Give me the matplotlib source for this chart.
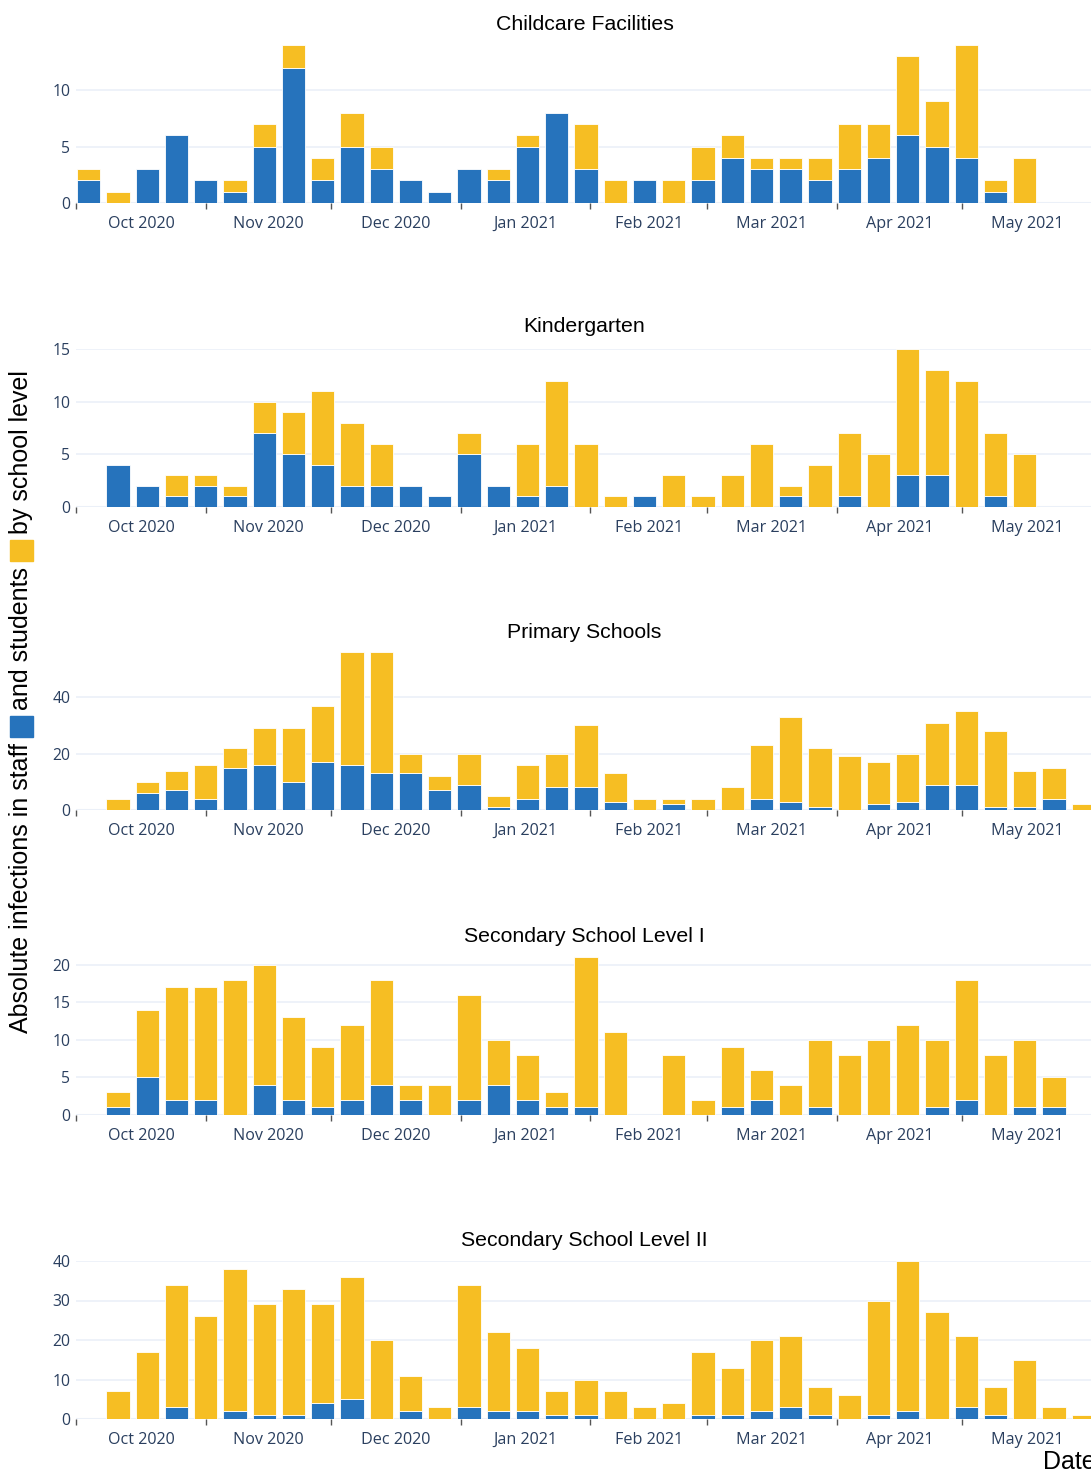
import numpy as np
import pandas as pd
import matplotlib
matplotlib.use("Agg")
import matplotlib.pyplot as plt
import matplotlib.dates as mdates
from matplotlib.patches import Rectangle

# -------------------------------
# Data: weekly infections (staff / students) per school level
# -------------------------------
weeks = pd.date_range("2020-10-04", "2021-05-30", freq="7D")

childcare_staff = [2, 0, 3, 6, 2, 1, 5, 12, 2, 5, 3, 2, 1, 3, 2, 5, 8, 3, 0, 2, 0, 2, 4, 3, 3, 2, 3, 4, 6, 5, 4, 1, 0, 0, 0]
childcare_students = [1, 1, 0, 0, 0, 1, 2, 2, 2, 3, 2, 0, 0, 0, 1, 1, 0, 4, 2, 0, 2, 3, 2, 1, 1, 2, 4, 3, 7, 4, 10, 1, 4, 0, 0]

kinder_staff = [0, 4, 2, 1, 2, 1, 7, 5, 4, 2, 2, 2, 1, 5, 2, 1, 2, 0, 0, 1, 0, 0, 0, 0, 1, 0, 1, 0, 3, 3, 0, 1, 0, 0, 0]
kinder_students = [0, 0, 0, 2, 1, 1, 3, 4, 7, 6, 4, 0, 0, 2, 0, 5, 10, 6, 1, 0, 3, 1, 3, 6, 1, 4, 6, 5, 12, 10, 12, 6, 5, 0, 0]

primary_staff = [0, 0, 6, 7, 4, 15, 16, 10, 17, 16, 13, 13, 7, 9, 1, 4, 8, 8, 3, 0, 2, 0, 0, 4, 3, 1, 0, 2, 3, 9, 9, 1, 1, 4, 0]
primary_students = [0, 4, 4, 7, 12, 7, 13, 19, 20, 40, 43, 7, 5, 11, 4, 12, 12, 22, 10, 4, 2, 4, 8, 19, 30, 21, 19, 15, 17, 22, 26, 27, 13, 11, 2]

sec1_staff = [0, 1, 5, 2, 2, 0, 4, 2, 1, 2, 4, 2, 0, 2, 4, 2, 1, 1, 0, 0, 0, 0, 1, 2, 0, 1, 0, 0, 0, 1, 2, 0, 1, 1, 0]
sec1_students = [0, 2, 9, 15, 15, 18, 16, 11, 8, 10, 14, 2, 4, 14, 6, 6, 2, 20, 11, 0, 8, 2, 8, 4, 4, 9, 8, 10, 12, 9, 16, 8, 9, 4, 0]

sec2_staff = [0, 0, 0, 3, 0, 2, 1, 1, 4, 5, 0, 2, 0, 3, 2, 2, 1, 1, 0, 0, 0, 1, 1, 2, 3, 1, 0, 1, 2, 0, 3, 1, 0, 0, 0]
sec2_students = [0, 7, 17, 31, 26, 36, 28, 32, 25, 31, 20, 9, 3, 31, 20, 16, 6, 9, 7, 3, 4, 16, 12, 18, 18, 7, 6, 29, 38, 27, 18, 7, 15, 3, 1]

titles = ["Childcare Facilities", "Kindergarten", "Primary Schools",
          "Secondary School Level I", "Secondary School Level II"]
staff_series = [childcare_staff, kinder_staff, primary_staff, sec1_staff, sec2_staff]
student_series = [childcare_students, kinder_students, primary_students, sec1_students, sec2_students]
yticks_list = [[0, 5, 10], [0, 5, 10, 15], [0, 20, 40], [0, 5, 10, 15, 20], [0, 10, 20, 30, 40]]

BLUE = "#2673BC"
YELLOW = "#F6BE23"
GRID = "#EBF0F8"
TICKCOL = "#2a3f5f"

# -------------------------------
# Figure layout (pixel based)
# -------------------------------
W, H = 1091, 1474
fig = plt.figure(figsize=(W / 100, H / 100), dpi=100)

ax_left, ax_right = 76, 1095
ax_height = 158
zero_rows = [203, 507, 810, 1115, 1419]
title_rows = [24, 327, 632, 936, 1240]

x = mdates.date2num(weeks)
bar_w = 5.6
month_starts = pd.date_range("2020-10-01", "2021-06-01", freq="MS")
ms = mdates.date2num(month_starts)
mid_months = (ms[:-1] + ms[1:]) / 2
month_labels = [d.strftime("%b %Y") for d in month_starts[:-1]]

for i in range(5):
    staff = np.array(staff_series[i])
    students = np.array(student_series[i])
    total = staff + students
    bottom_px = zero_rows[i]
    ax = fig.add_axes([ax_left / W, 1 - bottom_px / H,
                       (ax_right - ax_left) / W, ax_height / H])

    m1 = staff > 0
    ax.bar(x[m1], staff[m1], width=bar_w, color=BLUE, edgecolor="white", linewidth=0.6, zorder=2)
    m2 = students > 0
    ax.bar(x[m2], students[m2], bottom=staff[m2], width=bar_w, color=YELLOW,
           edgecolor="white", linewidth=0.6, zorder=2)

    ax.set_xlim(ms[0] - 0.05, x[-1] + bar_w / 2)
    ax.set_ylim(0, total.max())

    ax.set_yticks(yticks_list[i])
    ax.yaxis.grid(True, color=GRID, linewidth=1.2, zorder=0)
    ax.axhline(0, color=GRID, linewidth=2.2, zorder=1)
    ax.set_axisbelow(True)
    ax.tick_params(axis="y", length=0, pad=4, labelsize=11.3, labelcolor=TICKCOL)

    ax.set_xticks(mid_months)
    ax.set_xticklabels(month_labels)
    ax.set_xticks(ms, minor=True)
    ax.tick_params(axis="x", which="major", length=0, pad=18, labelsize=11.6, labelcolor=TICKCOL)
    ax.tick_params(axis="x", which="minor", length=4, width=1, color="#555555", direction="out")
    for lab in ax.get_xticklabels():
        lab.set_family("Open Sans")
        lab.set_verticalalignment("baseline")
    for lab in ax.get_yticklabels():
        lab.set_family("Open Sans")

    for sp in ax.spines.values():
        sp.set_visible(False)

    fig.text((ax_left + 1093) / 2 / W, 1 - title_rows[i] / H, titles[i],
             ha="center", va="center", fontsize=15.3, family="Liberation Sans", color="black")

# -------------------------------
# Y label with colored squares
# -------------------------------
renderer = fig.canvas.get_renderer()
lab_x = 21 / W
lab_fs = 18
cur = 1033  # pixel from top, bottom end of the label
gap = 6
sq = 21
segments = ["Absolute infections in staff", BLUE, "and students", YELLOW, "by school level"]
for seg in segments:
    if seg.startswith("#"):
        fig.patches.append(Rectangle(((21 - 11) / W, 1 - cur / H), 23 / W, sq / H,
                                     transform=fig.transFigure, color=seg))
        cur = cur - sq - gap
    else:
        t = fig.text(lab_x, 1 - cur / H, seg, rotation=90, ha="center", va="bottom",
                     fontsize=lab_fs, family="Liberation Sans", color="black")
        bb = t.get_window_extent(renderer)
        cur = H - bb.y1 - gap

fig.text(1043 / W, 1 - 1462 / H, "Date", ha="left", va="center",
         fontsize=lab_fs, family="Liberation Sans", color="black")

fig.savefig("out.png", dpi=100)
